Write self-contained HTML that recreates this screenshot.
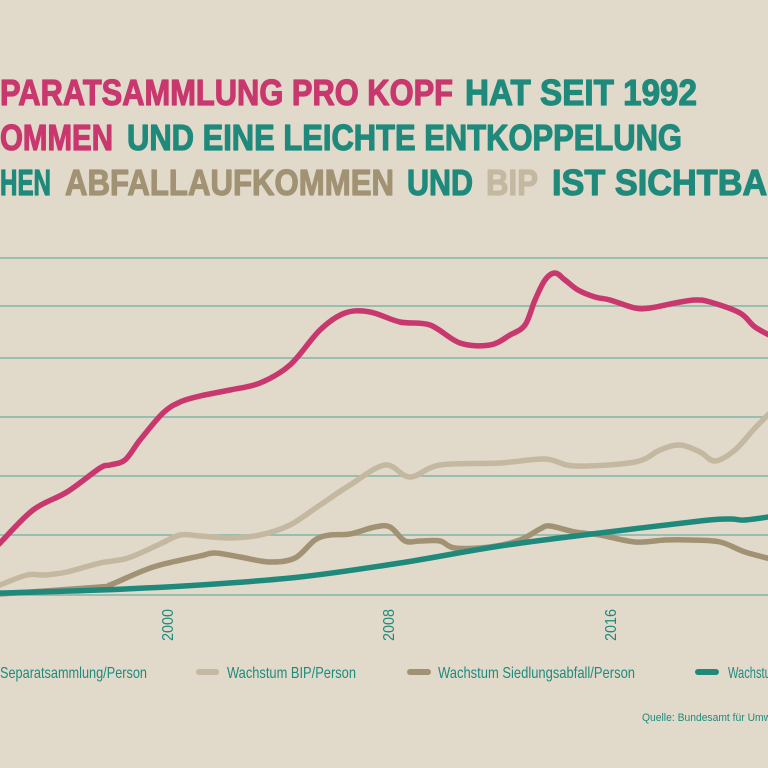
<!DOCTYPE html>
<html><head><meta charset="utf-8"><style>
html,body{margin:0;padding:0;background:#e1dacb;}
svg{display:block}
.t{font-family:"Liberation Sans Narrow","Liberation Sans",sans-serif;font-weight:bold;font-size:36px;stroke-width:1.2;stroke-linejoin:round}
.l{font-family:"Liberation Sans Narrow","Liberation Sans",sans-serif;font-size:16px;fill:#1f8a7c}
</style></head><body>
<svg id="s" width="768" height="768" viewBox="0 0 768 768" xmlns="http://www.w3.org/2000/svg">
<rect width="768" height="768" fill="#e1dacb"/>
<g class="t">
<text x="0" y="105" fill="#c8386e" stroke="#c8386e" textLength="453" lengthAdjust="spacingAndGlyphs">PARATSAMMLUNG PRO KOPF</text>
<text x="465" y="105" fill="#1f8a7c" stroke="#1f8a7c" textLength="232" lengthAdjust="spacingAndGlyphs">HAT SEIT 1992</text>
<text x="0" y="150" fill="#c8386e" stroke="#c8386e" textLength="113" lengthAdjust="spacingAndGlyphs">OMMEN</text>
<text x="127" y="150" fill="#1f8a7c" stroke="#1f8a7c" textLength="555" lengthAdjust="spacingAndGlyphs">UND EINE LEICHTE ENTKOPPELUNG</text>
<text x="0" y="195" fill="#1f8a7c" stroke="#1f8a7c" textLength="51" lengthAdjust="spacingAndGlyphs">HEN</text>
<text x="65" y="195" fill="#a29274" stroke="#a29274" textLength="329" lengthAdjust="spacingAndGlyphs">ABFALLAUFKOMMEN</text>
<text x="407" y="195" fill="#1f8a7c" stroke="#1f8a7c" textLength="66" lengthAdjust="spacingAndGlyphs">UND</text>
<text x="486" y="195" fill="#c4b8a0" stroke="#c4b8a0" textLength="52" lengthAdjust="spacingAndGlyphs">BIP</text>
<text x="552" y="195" fill="#1f8a7c" stroke="#1f8a7c" textLength="240" lengthAdjust="spacingAndGlyphs">IST SICHTBAR</text>
</g>
<g stroke="#7fb5a5" stroke-width="1.5">
<line x1="0" x2="768" y1="258" y2="258"/><line x1="0" x2="768" y1="306" y2="306"/>
<line x1="0" x2="768" y1="358" y2="358"/><line x1="0" x2="768" y1="417" y2="417"/>
<line x1="0" x2="768" y1="476" y2="476"/><line x1="0" x2="768" y1="535" y2="535"/>
<line x1="0" x2="768" y1="595" y2="595"/>
</g>
<g id="lines" fill="none" stroke-width="5.5" stroke-linecap="round" stroke-linejoin="round"></g>
<g class="l">
<text transform="translate(173,641) rotate(-90)" textLength="32" lengthAdjust="spacingAndGlyphs">2000</text>
<text transform="translate(394,641) rotate(-90)" textLength="32" lengthAdjust="spacingAndGlyphs">2008</text>
<text transform="translate(616,641) rotate(-90)" textLength="32" lengthAdjust="spacingAndGlyphs">2016</text>
<text x="0" y="678" textLength="147" lengthAdjust="spacingAndGlyphs">Separatsammlung/Person</text>
<text x="227" y="678" textLength="129" lengthAdjust="spacingAndGlyphs">Wachstum BIP/Person</text>
<text x="438" y="678" textLength="197" lengthAdjust="spacingAndGlyphs">Wachstum Siedlungsabfall/Person</text>
<text x="728" y="678" textLength="52" lengthAdjust="spacingAndGlyphs">Wachstum</text>
<text x="642" y="721" style="font-size:11px" textLength="140" lengthAdjust="spacingAndGlyphs">Quelle: Bundesamt für Umwelt</text>
</g>
<g stroke-width="6" stroke-linecap="round">
<line x1="199" x2="216" y1="672" y2="672" stroke="#c4b8a0"/>
<line x1="410" x2="428" y1="672" y2="672" stroke="#a29274"/>
<line x1="698" x2="716" y1="672" y2="672" stroke="#1f8a7c"/>
</g>
</svg>
<script>
function cr(p){let d="M"+p[0][0]+","+p[0][1];for(let i=0;i<p.length-1;i++){const a=p[Math.max(0,i-1)],b=p[i],c=p[i+1],e=p[Math.min(p.length-1,i+2)];d+=" C"+(b[0]+(c[0]-a[0])/6)+","+(b[1]+(c[1]-a[1])/6)+" "+(c[0]-(e[0]-b[0])/6)+","+(c[1]-(e[1]-b[1])/6)+" "+c[0]+","+c[1];}return d;}
const S={
"#c4b8a0":[[-5,587],[0,585],[27,575],[45,575],[67,572],[100,563],[128,558],[160,544],[180,535],[200,536],[230,538],[260,535],[290,525],[320,505],[350,485],[385,465],[410,477],[440,465],[500,463],[545,459],[575,466],[635,462],[660,450],[680,445],[700,452],[715,461],[735,450],[755,428],[775,408]],
"#a29274":[[-5,594],[0,594],[100,587],[110,585],[140,572],[160,565],[200,556],[215,553],[240,557],[270,562],[295,558],[315,540],[330,535],[350,534],[375,527],[390,527],[405,541],[420,541],[440,541],[455,548],[490,547],[520,540],[540,529],[550,526],[575,532],[600,535],[635,542],[665,540],[690,540],[720,542],[745,552],[775,560]],
"#1f8a7c":[[-5,593],[0,593],[100,590],[200,585],[300,577],[400,563],[500,546],[600,533],[700,521],[730,519],[745,520],[775,516]],
"#c8386e":[[-5,548],[0,543],[33,510],[67,492],[100,468],[110,465],[125,460],[140,440],[163,413],[180,402],[200,396],[230,390],[260,383],[290,365],[320,330],[345,313],[370,312],[400,322],[430,325],[460,343],[490,345],[510,335],[525,325],[535,300],[545,280],[555,273],[565,280],[578,290],[595,297],[610,300],[635,308],[650,308],[675,303],[695,300],[710,302],[740,313],[755,327],[775,338]]};
const g=document.getElementById("lines");
for(const k in S){const p=document.createElementNS("http://www.w3.org/2000/svg","path");p.setAttribute("d",cr(S[k]));p.setAttribute("stroke",k);g.appendChild(p);}
</script>
</body></html>
